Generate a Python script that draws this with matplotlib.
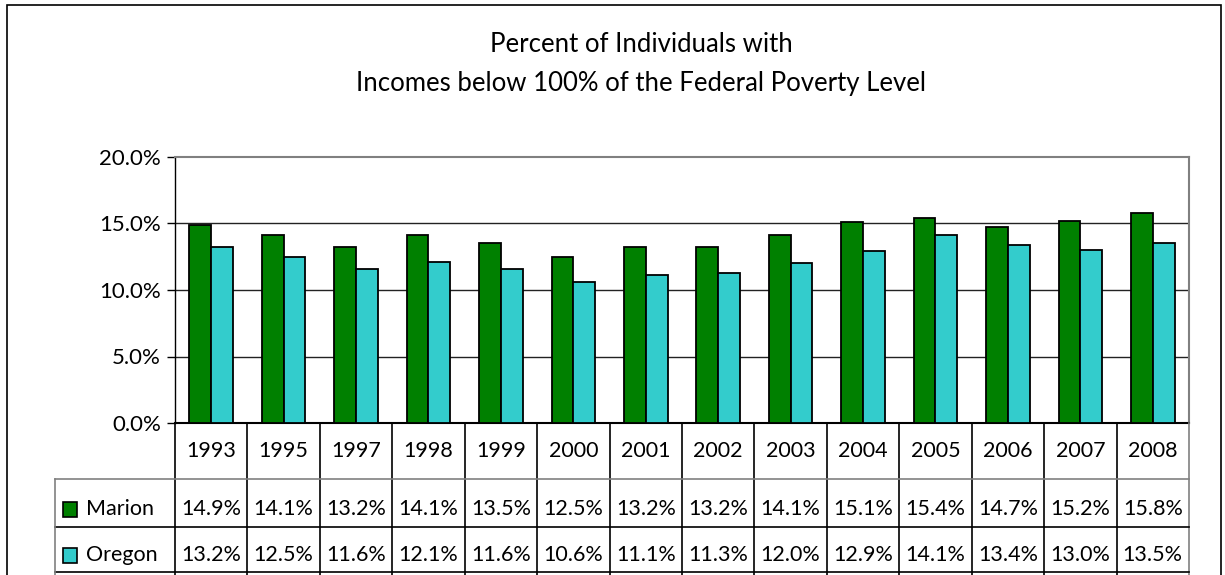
import matplotlib
matplotlib.use('Agg')
import matplotlib.pyplot as plt
import matplotlib.transforms as mtransforms
from matplotlib.patches import Rectangle
from matplotlib.lines import Line2D
import numpy as np

# data
years = ['1993', '1995', '1997', '1998', '1999', '2000', '2001',
         '2002', '2003', '2004', '2005', '2006', '2007', '2008']
marion = [14.9, 14.1, 13.2, 14.1, 13.5, 12.5, 13.2, 13.2, 14.1, 15.1, 15.4, 14.7, 15.2, 15.8]
oregon = [13.2, 12.5, 11.6, 12.1, 11.6, 10.6, 11.1, 11.3, 12.0, 12.9, 14.1, 13.4, 13.0, 13.5]
series = ['Marion', 'Oregon']
colors = ['#008000', '#33CCCC']

plt.rcParams['font.family'] = ['Lato', 'DejaVu Sans']

W, H = 1225, 575
fig = plt.figure(figsize=(W / 100, H / 100), dpi=100)


def fx(px):
    return px / W


def fy(py):
    return 1 - py / H


# outer chart border
fig.patches.append(Rectangle((fx(7), fy(600)), fx(1221) - fx(7), fy(5) - fy(600),
                             transform=fig.transFigure, fill=False,
                             edgecolor='black', linewidth=1.2))

# title
fig.text(fx(641), fy(45), 'Percent of Individuals with', ha='center', va='center', fontsize=18.5)
fig.text(fx(641), fy(83), 'Incomes below 100% of the Federal Poverty Level',
         ha='center', va='center', fontsize=18.5)

left, right, top, bottom = 175, 1189, 157, 423
ax = fig.add_axes([fx(left), fy(bottom), fx(right) - fx(left), fy(top) - fy(bottom)])

x = np.arange(len(years))
w = 0.3
ax.bar(x - w / 2, marion, w, color=colors[0], edgecolor='black', linewidth=1.3, zorder=3)
ax.bar(x + w / 2, oregon, w, color=colors[1], edgecolor='black', linewidth=1.3, zorder=3)

ax.set_xlim(-0.5, len(years) - 0.5)
ax.set_ylim(0, 20)
ax.set_yticks([0, 5, 10, 15, 20])
ax.set_yticklabels(['%.1f%%' % v for v in [0, 5, 10, 15, 20]], fontsize=16)
ax.tick_params(axis='y', direction='out', length=6, width=1, pad=4)
ax.set_xticks([])
for v in [5, 10, 15]:
    ax.axhline(v, color='#222222', linewidth=1, zorder=1)
ax.spines['top'].set_color('#808080')
ax.spines['right'].set_color('#808080')
ax.spines['top'].set_linewidth(1.5)
ax.spines['right'].set_linewidth(1.5)
ax.spines['left'].set_linewidth(1)
ax.spines['bottom'].set_linewidth(1.5)

# data table below the plot: x in data units, y in figure fraction
tr = mtransforms.blended_transform_factory(ax.transData, fig.transFigure)
row_lines = [479, 527, 572]
row_mid = [451, 509, 555]
n = len(years)
legend_left = 55
lx = (legend_left - left) / (right - left) * n - 0.5

for b in range(n + 1):
    xb = b - 0.5
    col = '#808080' if b in (n,) else 'black'
    fig.add_artist(Line2D([xb, xb], [fy(bottom), fy(575)], transform=tr,
                          color=col, linewidth=1.2))
for i, yl in enumerate(row_lines):
    fig.add_artist(Line2D([lx, n - 0.5], [fy(yl), fy(yl)], transform=tr,
                          color='#808080' if i == 0 else 'black', linewidth=1.2))
fig.add_artist(Line2D([lx, lx], [fy(479), fy(575)], transform=tr,
                      color='#808080', linewidth=1.2))

for i, yr in enumerate(years):
    fig.text(i, fy(row_mid[0]), yr, transform=tr, ha='center', va='center', fontsize=15.5)
for r, vals in enumerate([marion, oregon]):
    for i, v in enumerate(vals):
        fig.text(i, fy(row_mid[r + 1]), '%.1f%%' % v, transform=tr,
                 ha='center', va='center', fontsize=15.5)
    # legend key
    fig.patches.append(Rectangle((fx(63), fy(row_mid[r + 1] + 8)), fx(14), fy(0) - fy(15),
                                 transform=fig.transFigure, facecolor=colors[r],
                                 edgecolor='black', linewidth=1.2))
    fig.text(fx(86), fy(row_mid[r + 1]), series[r], ha='left', va='center', fontsize=15.5)

fig.savefig('out.png', dpi=100)
